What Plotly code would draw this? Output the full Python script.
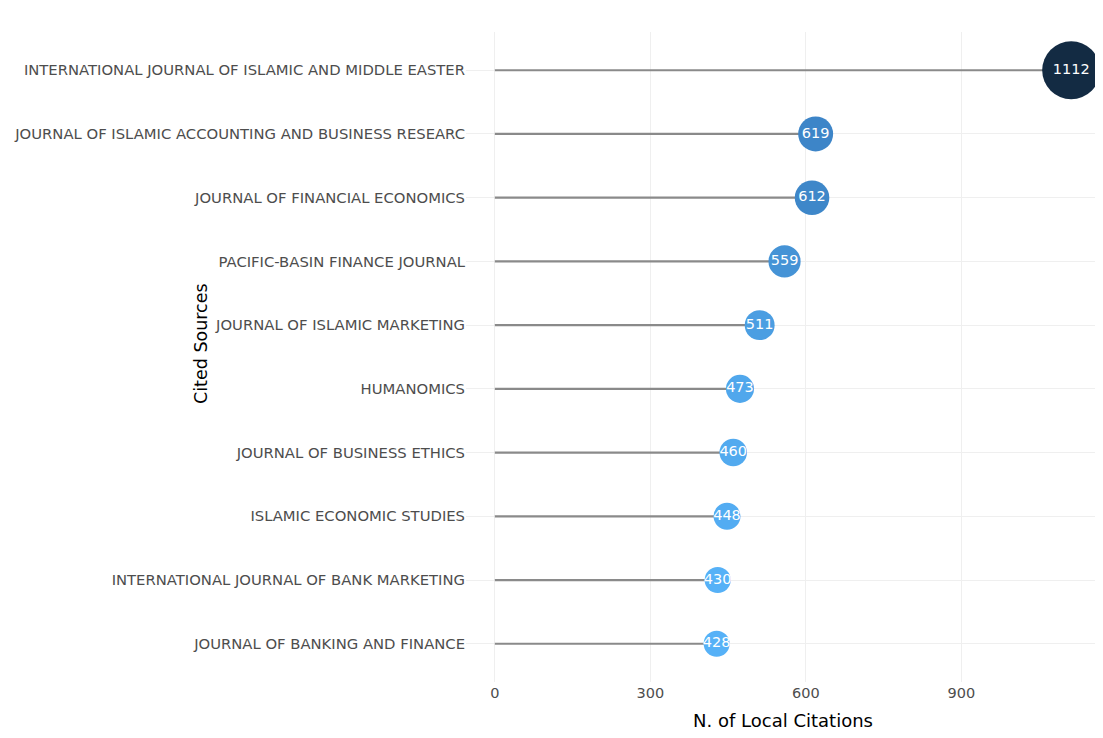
import plotly.graph_objects as go

sources = [
    "INTERNATIONAL JOURNAL OF ISLAMIC AND MIDDLE EASTER",
    "JOURNAL OF ISLAMIC ACCOUNTING AND BUSINESS RESEARC",
    "JOURNAL OF FINANCIAL ECONOMICS",
    "PACIFIC-BASIN FINANCE JOURNAL",
    "JOURNAL OF ISLAMIC MARKETING",
    "HUMANOMICS",
    "JOURNAL OF BUSINESS ETHICS",
    "ISLAMIC ECONOMIC STUDIES",
    "INTERNATIONAL JOURNAL OF BANK MARKETING",
    "JOURNAL OF BANKING AND FINANCE",
]
citations = [1112, 619, 612, 559, 511, 473, 460, 448, 430, 428]
x_ticks = [0, 300, 600, 900]

# reverse so first item is on top
cats = sources[::-1]
vals = citations[::-1]

seg_x, seg_y = [], []
for c, v in zip(cats, vals):
    seg_x += [0, v, None]
    seg_y += [c, c, None]

vmin, vmax = min(vals), max(vals)
sizes = [26 + (v - vmin) / (vmax - vmin) * 32 for v in vals]

# page body has an 8px offset; compensate so panel lands where reference has it
W, H = 1095, 730
L, T, B = 458, 24, 56

fig = go.Figure()
fig.add_trace(go.Scatter(
    x=seg_x, y=seg_y, mode="lines",
    line=dict(color="#8a8a8a", width=2.2),
    hoverinfo="skip", showlegend=False,
))
fig.add_trace(go.Scatter(
    x=vals, y=cats, mode="markers+text",
    text=[str(v) for v in vals],
    textposition="middle center",
    textfont=dict(family="DejaVu Sans", size=14.5, color="white"),
    marker=dict(
        size=sizes, color=vals,
        colorscale=[[0, "#56B1F7"], [0.3, "#3B82C4"], [1, "#132B43"]],
        cmin=vmin, cmax=vmax, line=dict(width=0), opacity=1,
    ),
    showlegend=False,
))

fig.update_layout(
    width=W, height=H,
    margin=dict(l=L, r=3, t=T, b=B, pad=0),
    plot_bgcolor="white", paper_bgcolor="white",
    font=dict(family="DejaVu Sans", color="#4d4d4d"),
    xaxis=dict(
        range=[-55.6, 1167.6], tickvals=x_ticks,
        showgrid=True, gridcolor="#efefef", gridwidth=1,
        zeroline=False, showline=False, ticks="",
        tickfont=dict(size=14.5, color="#4d4d4d"),
        title=dict(text="N. of Local Citations",
                   font=dict(size=18, color="black"), standoff=14),
    ),
    yaxis=dict(
        categoryorder="array", categoryarray=cats,
        range=[-0.6, 9.6],
        showgrid=True, gridcolor="#efefef", gridwidth=1,
        zeroline=False, showline=False, ticks="",
        tickfont=dict(size=14.8, color="#4d4d4d"),
        ticklabelstandoff=0,
    ),
    annotations=[dict(
        text="Cited Sources", textangle=-90,
        xref="paper", yref="paper",
        x=(193 - L) / (W - L - 3), y=(H - B - (344 - 8)) / (H - T - B),
        xanchor="center", yanchor="middle", showarrow=False,
        font=dict(family="DejaVu Sans", size=17.5, color="black"),
    )],
)

fig.write_html("out.html")
